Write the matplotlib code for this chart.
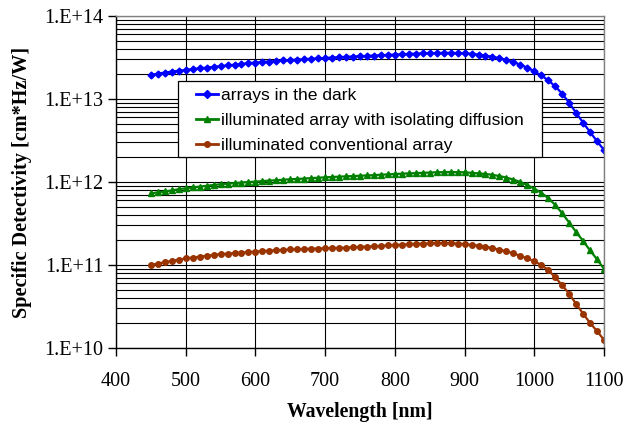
import matplotlib
matplotlib.use("Agg")
import matplotlib.pyplot as plt
from matplotlib.ticker import LogLocator, FuncFormatter, NullFormatter
from matplotlib.patches import Rectangle
import numpy as np

wavelength = list(range(450, 1101, 10))

dark = [1.95, 2.02, 2.08, 2.14, 2.19, 2.24, 2.29, 2.34, 2.39, 2.44,
        2.49, 2.54, 2.59, 2.64, 2.70, 2.75, 2.79, 2.83, 2.87, 2.91,
        2.95, 2.98, 3.02, 3.06, 3.09, 3.12, 3.16, 3.19, 3.22, 3.25,
        3.28, 3.31, 3.34, 3.37, 3.40, 3.43, 3.46, 3.49, 3.52, 3.54,
        3.56, 3.58, 3.59, 3.59, 3.58, 3.55, 3.50, 3.43, 3.34, 3.23,
        3.10, 2.95, 2.78, 2.59, 2.38, 2.16, 1.92, 1.68, 1.42, 1.16,
        0.90, 0.68, 0.52, 0.40, 0.31, 0.243]
dark = [v * 1e13 for v in dark]

isolating = [0.73, 0.75, 0.77, 0.79, 0.82, 0.84, 0.86, 0.88, 0.90, 0.92,
             0.94, 0.955, 0.97, 0.985, 1.00, 1.01, 1.025, 1.04, 1.05, 1.065,
             1.08, 1.09, 1.10, 1.115, 1.125, 1.14, 1.15, 1.16, 1.17, 1.18,
             1.19, 1.20, 1.21, 1.225, 1.235, 1.25, 1.26, 1.27, 1.28, 1.29,
             1.30, 1.31, 1.315, 1.32, 1.315, 1.31, 1.29, 1.27, 1.25, 1.22,
             1.18, 1.13, 1.07, 1.00, 0.92, 0.83, 0.74, 0.64, 0.53, 0.42,
             0.325, 0.25, 0.195, 0.15, 0.117, 0.090]
isolating = [v * 1e12 for v in isolating]

conventional = [1.00, 1.04, 1.08, 1.12, 1.16, 1.20, 1.23, 1.26, 1.29, 1.32,
                1.35, 1.37, 1.39, 1.41, 1.43, 1.45, 1.47, 1.49, 1.51, 1.52,
                1.54, 1.55, 1.56, 1.57, 1.58, 1.59, 1.60, 1.61, 1.62, 1.64,
                1.65, 1.67, 1.68, 1.70, 1.72, 1.74, 1.76, 1.78, 1.80, 1.81,
                1.82, 1.83, 1.84, 1.83, 1.81, 1.78, 1.75, 1.71, 1.66, 1.60,
                1.53, 1.46, 1.38, 1.29, 1.20, 1.11, 1.00, 0.87, 0.71, 0.57,
                0.45, 0.34, 0.26, 0.20, 0.16, 0.125]
conventional = [v * 1e11 for v in conventional]

labels = ["arrays in the dark",
          "illuminated array with isolating diffusion",
          "illuminated conventional array"]
x_ticks = [400, 500, 600, 700, 800, 900, 1000, 1100]

W, H = 626, 428
fig = plt.figure(figsize=(W/100, H/100), dpi=100)
ax = fig.add_axes([116/W, 1-348/H, 488/W, 332/H])

ax.plot(wavelength, dark, color="#0000FF", marker="D", markersize=3.5, lw=1.6, label=labels[0])
ax.plot(wavelength, isolating, color="#008000", marker="^", markersize=4.5, lw=1.6, label=labels[1])
ax.plot(wavelength, conventional, color="#993300", marker="o", markersize=4, lw=1.6, label=labels[2])

ax.set_yscale("log")
ax.set_ylim(1e10, 1e14)
ax.set_xlim(400, 1100)
ax.set_xticks(x_ticks)
ax.yaxis.set_major_locator(LogLocator(base=10, numticks=10))
ax.yaxis.set_minor_locator(LogLocator(base=10, subs=np.arange(2, 10), numticks=20))
ax.yaxis.set_minor_formatter(NullFormatter())
ax.yaxis.set_major_formatter(FuncFormatter(lambda v, p: "1.E+%02d" % int(round(np.log10(v)))))

ax.grid(True, which="major", axis="x", color="black", lw=0.8)
ax.grid(True, which="both", axis="y", color="black", lw=0.8)
ax.set_axisbelow(True)
ax.tick_params(axis="y", which="minor", length=0)
ax.tick_params(axis="both", which="major", direction="out", length=6, width=1, color="black",
               labelsize=14.5)
ax.tick_params(axis="x", which="major", pad=11)
ax.tick_params(axis="y", which="major", pad=3)
for lab in ax.get_xticklabels() + ax.get_yticklabels():
    lab.set_fontfamily("Liberation Serif")
for s in ax.spines.values():
    s.set_color("#808080")
    s.set_linewidth(1)
ax.spines["left"].set_color("black")
ax.spines["bottom"].set_color("black")

ax.set_xlabel("Wavelength [nm]", fontfamily="Liberation Serif", fontweight="bold", fontsize=14.2, labelpad=8)
ax.set_ylabel("Specific Detectivity [cm*Hz/W]", fontfamily="Liberation Serif", fontweight="bold", fontsize=14.6, labelpad=9)

# legend frame
frame = Rectangle(((178-116)/488, (348-157)/332), 364/488, 76/332, transform=ax.transAxes,
                  facecolor="white", edgecolor="black", lw=0.9, zorder=4.5)
ax.add_patch(frame)

fs = 12.6
fpx = fs * 100 / 72
handles, lbls = ax.get_legend_handles_labels()
leg = ax.legend(handles, lbls, loc="upper left",
                bbox_to_anchor=((196-116)/488, (348-88)/332), borderaxespad=0, borderpad=0,
                prop={"family": "Liberation Sans", "size": fs}, frameon=False,
                handlelength=22/fpx, handletextpad=3/fpx, labelspacing=0.56)
leg.set_zorder(6)
for line in leg.get_lines():
    line.set_linewidth(2)
    line.set_markersize(4)

fig.savefig("out.png", dpi=100)
